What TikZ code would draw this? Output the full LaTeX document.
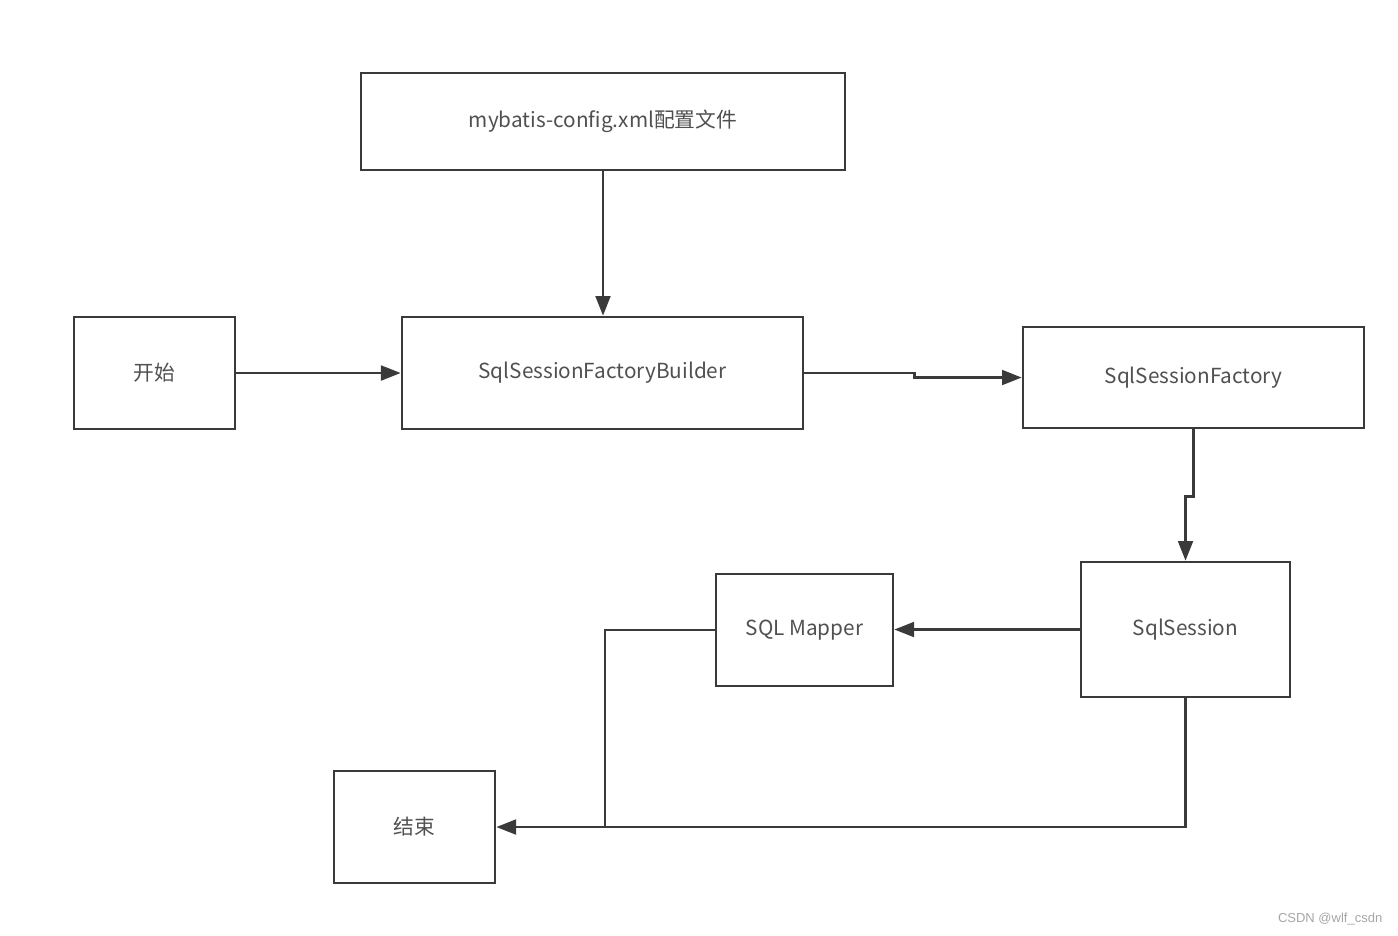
\documentclass[tikz,border=0pt]{standalone}
\usepackage{fontspec}
\setmainfont{Noto Sans CJK SC}
\newfontfamily\markfont{Liberation Sans}
\usetikzlibrary{arrows.meta}
\definecolor{linegray}{HTML}{3A3A3A}
\definecolor{textgray}{HTML}{505050}

\tikzset{
  box/.style={draw=linegray, line width=0.75pt, rectangle, inner sep=0pt,
              text=textgray, font=\fontsize{5.9}{7}\selectfont},
  arr/.style={draw=linegray, line width=0.75pt, -{Triangle[length=5.6pt,width=4.2pt]}},
  ln/.style={draw=linegray, line width=0.75pt}
}

\begin{document}
\begin{tikzpicture}[x=0.01cm, y=-0.01cm]

  \useasboundingbox (0,0) rectangle (1398,935);

	%boxes
    \foreach \name/\cx/\cy/\w/\h/\txt in {cfg/603/121.5/484/97/mybatis-config.xml配置文件,
                                          start/154.5/373/161/112/开始,
                                          bld/602.5/373/401/112/SqlSessionFactoryBuilder,
                                          fac/1193.5/377.5/341/101/SqlSessionFactory,
                                          ses/1185.5/629.5/209/135/SqlSession,
                                          map/804.5/630/177/112/SQL Mapper,
                                          end/414.5/827/161/112/结束}{
         \node[box, minimum width=\w*0.01cm, minimum height=\h*0.01cm] (\name) at (\cx,\cy) {\txt};
    }

	%connectors
    \coordinate (j) at (605,827);
    \draw[arr] (cfg.south) -- (cfg.south |- bld.north);
    \draw[arr] (start) -- (bld);
    \draw[arr] (bld.east) -- ++(110,0) |- (fac.west);
    \draw[arr] (fac.south) -- ++(0,67) -| (ses.north);
    \draw[arr] (ses.west) -- (ses.west -| map.east);
    \draw[ln] (map.west) -| (j);
    \draw[arr] (ses.south) |- (end.east);

	%watermark
    \node[text=gray!70, font=\markfont\fontsize{3.7}{5}\selectfont, anchor=east, inner sep=0pt] (mark) at (1383,919) {CSDN @wlf\_csdn};

\end{tikzpicture}
\end{document}
